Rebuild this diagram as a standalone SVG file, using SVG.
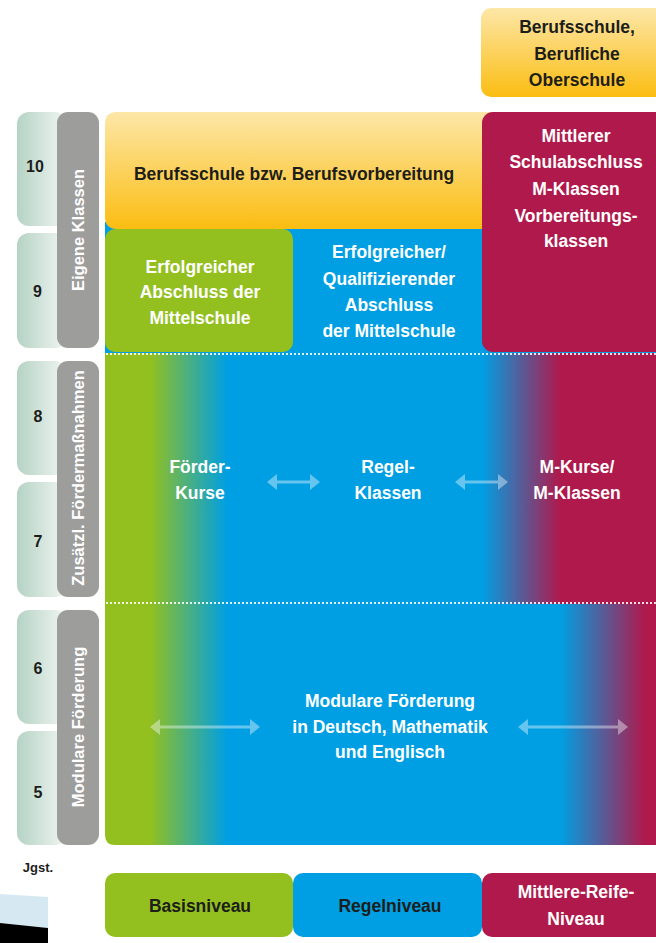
<svg xmlns="http://www.w3.org/2000/svg" width="656" height="943" viewBox="0 0 656 943">
<style>
text{font-family:"Liberation Sans",Arial,sans-serif;font-weight:bold;text-anchor:middle}
.w{fill:#ffffff;font-size:17.5px}
.k{fill:#1d1d1b;font-size:17.5px}
.num{fill:#1d1d1b;font-size:16px}
.vt{fill:#ffffff;font-size:16.5px}
.tab{fill:url(#gTab)}
.gray{fill:#9d9d9c}
.arr{fill:#ffffff;fill-opacity:0.4}
.dot{stroke:#ffffff;stroke-opacity:0.85;stroke-width:2;stroke-dasharray:2 2;fill:none}
</style>
<defs>
<linearGradient id="gTab" x1="0" y1="0" x2="1" y2="0">
<stop offset="0" stop-color="#b5d3c4"/>
<stop offset="1" stop-color="#f2f6f4"/>
</linearGradient>
<linearGradient id="gYel" x1="0" y1="0" x2="0" y2="1">
<stop offset="0" stop-color="#fde7a8"/>
<stop offset="1" stop-color="#fbbd12"/>
</linearGradient>
<linearGradient id="gMid" gradientUnits="userSpaceOnUse" x1="105" y1="0" x2="656" y2="0">
<stop offset="0.0817" stop-color="#93c01f"/>
<stop offset="0.2214" stop-color="#009fe3"/>
<stop offset="0.6842" stop-color="#009fe3"/>
<stop offset="0.8258" stop-color="#af194c"/>
</linearGradient>
<linearGradient id="gBot" gradientUnits="userSpaceOnUse" x1="105" y1="0" x2="656" y2="0">
<stop offset="0.0817" stop-color="#93c01f"/>
<stop offset="0.2214" stop-color="#009fe3"/>
<stop offset="0.8258" stop-color="#009fe3"/>
<stop offset="0.98" stop-color="#af194c"/>
</linearGradient>
<path id="arrS" d="M0,0 L10,-8 L10,-1.5 L43,-1.5 L43,-8 L53,0 L43,8 L43,1.5 L10,1.5 L10,8 Z"/>
<path id="arrL" d="M0,0 L10,-8 L10,-1.5 L100,-1.5 L100,-8 L110,0 L100,8 L100,1.5 L10,1.5 L10,8 Z"/>
</defs>

<g id="deco">
<polygon points="0,894 48,897 48,928 0,923" fill="#d6e9f2"/>
<polygon points="0,923 48,928 48,943 0,943" fill="#000000"/>
</g>

<g id="grade-tabs">
<rect class="tab" x="17" y="112" width="50" height="114" rx="12"/>
<rect class="tab" x="17" y="233" width="50" height="115" rx="12"/>
<rect class="tab" x="17" y="361" width="50" height="114" rx="12"/>
<rect class="tab" x="17" y="482" width="50" height="115" rx="12"/>
<rect class="tab" x="17" y="610" width="50" height="114" rx="12"/>
<rect class="tab" x="17" y="731" width="50" height="114" rx="12"/>
<text class="num" x="35" y="172">10</text>
<text class="num" x="37.5" y="297">9</text>
<text class="num" x="38" y="422">8</text>
<text class="num" x="38" y="547">7</text>
<text class="num" x="38" y="674">6</text>
<text class="num" x="38" y="798">5</text>
<text x="38" y="872" style="font-size:13px;fill:#1d1d1b">Jgst.</text>
</g>

<g id="phase-eigene">
<rect class="gray" x="57" y="112" width="42" height="236" rx="11"/>
<text class="vt" transform="translate(84,230) rotate(-90)">Eigene Klassen</text>
</g>
<g id="phase-zusatz">
<rect class="gray" x="57" y="361" width="42" height="236" rx="11"/>
<text class="vt" transform="translate(84,478) rotate(-90)">Zusätzl. Fördermaßnahmen</text>
</g>
<g id="phase-modular">
<rect class="gray" x="57" y="610" width="42" height="235" rx="11"/>
<text class="vt" transform="translate(84,727) rotate(-90)">Modulare Förderung</text>
</g>

<g id="section-top-bg">
<rect x="105" y="222" width="560" height="132" fill="#009fe3"/>
</g>

<g id="section-mid">
<rect x="105" y="353" width="560" height="251" fill="url(#gMid)"/>
<text class="w" x="200" y="473">Förder-</text>
<text class="w" x="200" y="499">Kurse</text>
<text class="w" x="388" y="473">Regel-</text>
<text class="w" x="388" y="499">Klassen</text>
<text class="w" x="577" y="473">M-Kurse/</text>
<text class="w" x="577" y="499">M-Klassen</text>
</g>

<g id="section-bottom">
<path d="M105,604 H665 V845 H115 Q105,845 105,835 Z" fill="url(#gBot)"/>
<text class="w" x="390" y="707">Modulare Förderung</text>
<text class="w" x="390" y="733">in Deutsch, Mathematik</text>
<text class="w" x="390" y="758">und Englisch</text>
</g>

<g id="node-berufsvorbereitung">
<path d="M117,112 H500 V229 H117 Q105,229 105,217 V124 Q105,112 117,112 Z" fill="url(#gYel)"/>
<text class="k" x="294" y="180">Berufsschule bzw. Berufsvorbereitung</text>
</g>

<g id="node-abschluss-green">
<rect x="105" y="229" width="188" height="123" rx="10" fill="#93c01f"/>
<text class="w" x="200" y="273">Erfolgreicher</text>
<text class="w" x="200" y="298">Abschluss der</text>
<text class="w" x="200" y="324">Mittelschule</text>
</g>

<g id="node-abschluss-blue">
<text class="w" x="389" y="258">Erfolgreicher/</text>
<text class="w" x="389" y="285">Qualifizierender</text>
<text class="w" x="389" y="311">Abschluss</text>
<text class="w" x="389" y="337">der Mittelschule</text>
</g>

<g id="node-mittlerer">
<rect x="482" y="112" width="190" height="240" rx="11" fill="#af194c"/>
<text class="w" x="576" y="142">Mittlerer</text>
<text class="w" x="576" y="168">Schulabschluss</text>
<text class="w" x="576" y="195">M-Klassen</text>
<text class="w" x="576" y="222">Vorbereitungs-</text>
<text class="w" x="576" y="247">klassen</text>
</g>

<g id="node-oberschule">
<rect x="481" y="8" width="190" height="89" rx="10" fill="url(#gYel)"/>
<text class="k" x="577" y="33">Berufsschule,</text>
<text class="k" x="577" y="60">Berufliche</text>
<text class="k" x="577" y="86">Oberschule</text>
</g>

<g id="dividers">
<line class="dot" x1="98" y1="354" x2="656" y2="354"/>
<line class="dot" x1="98" y1="603" x2="656" y2="603"/>
</g>

<g id="connectors">
<use href="#arrS" class="arr" x="267" y="482"/>
<use href="#arrS" class="arr" x="455" y="482"/>
<use href="#arrL" class="arr" x="150" y="727"/>
<use href="#arrL" class="arr" x="518" y="727"/>
</g>

<g id="node-basis">
<rect x="105" y="873" width="188" height="64" rx="10" fill="#93c01f"/>
<text class="k" x="200" y="912">Basisniveau</text>
</g>
<g id="node-regel">
<rect x="293" y="873" width="189" height="64" rx="10" fill="#009fe3"/>
<text class="k" x="390" y="912">Regelniveau</text>
</g>
<g id="node-mittlere-reife">
<rect x="482" y="873" width="190" height="64" rx="10" fill="#af194c"/>
<text class="w" x="576" y="898">Mittlere-Reife-</text>
<text class="w" x="576" y="925">Niveau</text>
</g>
</svg>
